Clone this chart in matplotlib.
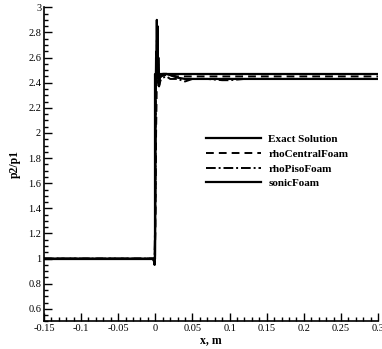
import matplotlib.pyplot as plt
import numpy as np
from matplotlib.ticker import MultipleLocator

plt.rcParams['font.family'] = ['Liberation Serif', 'DejaVu Serif']

# exact solution (step)
x_exact = [-0.15, 0.0, 0.0, 0.3]
p_exact = [1.0, 1.0, 2.47, 2.47]

# rhoCentralFoam
x_central = [-0.15, -0.003, -0.001, 0.0, 0.001, 0.002, 0.003, 0.005, 0.008, 0.012,
             0.02, 0.03, 0.05, 0.08, 0.12, 0.2, 0.3]
p_central = [1.0, 1.0, 1.01, 1.2, 2.0, 2.42, 2.5, 2.43, 2.45, 2.46,
             2.46, 2.45, 2.45, 2.45, 2.45, 2.45, 2.45]

# rhoPisoFoam
x_piso = [-0.15, -0.004, -0.002, -0.001, 0.0, 0.0005, 0.001, 0.0015, 0.002, 0.0025,
          0.003, 0.0035, 0.004, 0.005, 0.007, 0.01, 0.015, 0.02, 0.03, 0.04,
          0.05, 0.07, 0.09, 0.1, 0.12, 0.15, 0.2, 0.25, 0.3]
p_piso = [1.0, 1.0, 0.98, 1.02, 1.4, 2.2, 2.65, 2.4, 2.75, 2.45,
          2.7, 2.4, 2.55, 2.37, 2.42, 2.44, 2.45, 2.43, 2.43, 2.41,
          2.43, 2.43, 2.42, 2.42, 2.43, 2.43, 2.43, 2.43, 2.43]

# sonicFoam
x_sonic = [-0.15, -0.003, -0.002, -0.001, -0.0005, 0.0, 0.0005, 0.001, 0.0015, 0.002,
           0.0025, 0.003, 0.0035, 0.004, 0.005, 0.006, 0.008, 0.01, 0.015, 0.02,
           0.03, 0.04, 0.05, 0.08, 0.1, 0.15, 0.2, 0.3]
p_sonic = [1.0, 1.0, 0.99, 0.95, 1.03, 1.5, 2.3, 2.6, 2.45, 2.9,
           2.5, 2.85, 2.45, 2.6, 2.38, 2.44, 2.46, 2.47, 2.47, 2.46,
           2.44, 2.43, 2.43, 2.43, 2.43, 2.43, 2.43, 2.43]

fig = plt.figure(figsize=(3.82, 3.49), dpi=100)
ax = fig.add_axes([0.115, 0.079, 0.875, 0.9])

ax.plot(x_exact, p_exact, color='black', lw=1.6, ls='-', label='Exact Solution')
ax.plot(x_central, p_central, color='black', lw=1.4, ls=(0, (4, 2.6)), label='rhoCentralFoam')
ax.plot(x_piso, p_piso, color='black', lw=1.4, ls=(0, (5, 1.5, 1, 1.5)), label='rhoPisoFoam')
ax.plot(x_sonic, p_sonic, color='black', lw=1.6, ls='-', label='sonicFoam')

ax.set_xlim(-0.15, 0.3)
ax.set_ylim(0.5, 3.0)
ax.xaxis.set_minor_locator(MultipleLocator(0.01))
ax.yaxis.set_minor_locator(MultipleLocator(0.05))
ax.set_xticks(np.arange(-0.15, 0.301, 0.05))
ax.set_xticklabels(['-0.15', '-0.1', '-0.05', '0', '0.05', '0.1', '0.15', '0.2', '0.25', '0.3'])
ax.set_yticks(np.arange(0.6, 3.001, 0.2))
ax.set_yticklabels(['0.6', '0.8', '1', '1.2', '1.4', '1.6', '1.8', '2', '2.2', '2.4', '2.6', '2.8', '3'])

ax.tick_params(which='both', direction='in', labelsize=7.5, width=1, pad=2)
ax.tick_params(which='major', length=6)
ax.tick_params(which='minor', length=3)
ax.spines['top'].set_visible(False)
ax.spines['right'].set_visible(False)
ax.spines['left'].set_linewidth(1.2)
ax.spines['bottom'].set_linewidth(1.2)

ax.set_xlabel('x, m', fontsize=8.5, fontweight='bold', labelpad=1)
ax.set_ylabel('p2/p1', fontsize=8.5, fontweight='bold', labelpad=5)

ax.legend(loc='upper left', bbox_to_anchor=(0.473, 0.61), frameon=False,
          handlelength=4.95, handletextpad=0.63, labelspacing=0.45,
          borderpad=0.4, borderaxespad=0.0,
          prop={'family': 'Liberation Serif', 'weight': 'bold', 'size': 8})

fig.savefig('out.png', dpi=100)
